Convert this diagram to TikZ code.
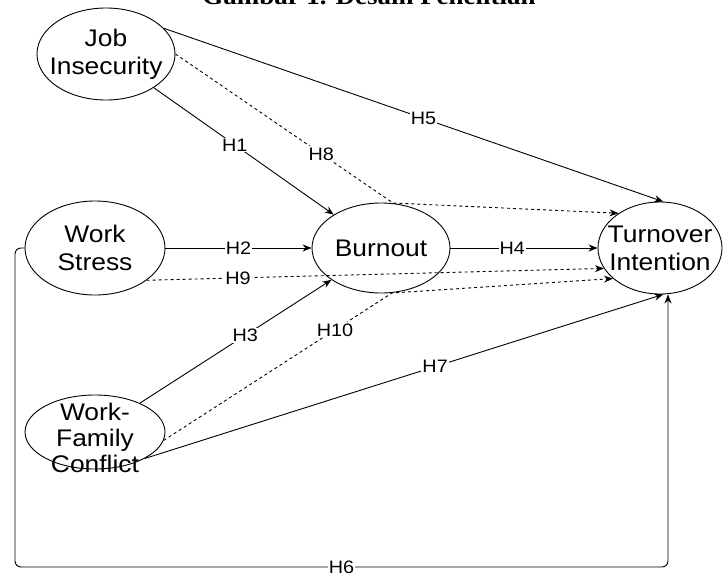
\documentclass[tikz,border=0pt]{standalone}
\usepackage{fontspec}
\setmainfont{Liberation Sans}[FakeStretch=1.1]
\newfontfamily\titlefont{Liberation Serif}[FakeStretch=1.1]
\usetikzlibrary{shapes.geometric, arrows.meta}

\begin{document}
\begin{tikzpicture}[x=1pt, y=-1pt,
  var/.style={ellipse, draw, line width=0.9pt, inner sep=0pt},
  vtext/.style={align=center, font=\fontsize{24}{28}\selectfont},
  hyp/.style={-{Stealth[length=9pt, width=7pt]}, line width=0.9pt},
  hypd/.style={hyp, dash pattern=on 3pt off 3pt},
  hl/.style={fill=white, inner sep=1pt, font=\fontsize{18}{20}\selectfont}]
  \useasboundingbox (0,0) rectangle (724,579);
  \node[anchor=base, font=\titlefont\bfseries\fontsize{24.5}{26}\selectfont] (title) at (369,4) {Gambar 1. Desain Penelitian};

  % variabel
  \node[var, minimum width=138, minimum height=92] (ji)  at (106,54)  {};
  \node[var, minimum width=140, minimum height=94] (ws)  at (95,248)  {};
  \node[var, minimum width=138, minimum height=90] (bo)  at (381,248) {};
  \node[var, minimum width=124, minimum height=92] (tn)  at (660,248) {};
  \node[var, minimum width=140, minimum height=74] (wfc) at (95,432)  {};
  \node[vtext] (ji-t)  at (ji)  {Job\\Insecurity};
  \node[vtext] (ws-t)  at (ws)  {Work\\Stress};
  \node[vtext] (bo-t)  at (bo)  {Burnout};
  \node[vtext] (tn-t)  at (tn)  {Turnover\\Intention};
  \node[vtext, font=\fontsize{24}{26}\selectfont] (wfc-t) at (95,438) {Work-\\Family\\Conflict};

  \coordinate (h8b)  at (393,203);
  \coordinate (h10b) at (392,293);
  \coordinate (h6a)  at (15,567);
  \coordinate (h6b)  at (668,567);

  % hipotesis
  \draw[hyp]  (ji) -- node[hl, pos=0.45] {H1} (bo);
  \draw[hyp]  (ws) -- node[hl] {H2} (bo);
  \draw[hyp]  (wfc) -- node[hl, pos=0.55] {H3} (bo);
  \draw[hyp]  (bo) -- node[hl, pos=0.42] {H4} (tn);
  \draw[hyp]  (ji.24) -- node[hl, pos=0.52] {H5} (tn.86);
  \draw[hyp, rounded corners=6pt] (ws.west) -| (h6a) -- node[hl, pos=0.5] {H6} (h6b) -- (h6b |- tn.south);
  \draw[hyp]  (wfc.-28) -- node[hl, pos=0.56] {H7} (tn.-86);
  \draw[hypd] (ji.east) -- node[hl, pos=0.67] {H8} (h8b) -- (tn.140);
  \draw[hypd] (ws.-32) -- node[hl, pos=0.2] {H9} (tn.200);
  \draw[hypd] (wfc.-7) -- node[hl, pos=0.75] {H10} (h10b) -- (tn.213);
\end{tikzpicture}
\end{document}
